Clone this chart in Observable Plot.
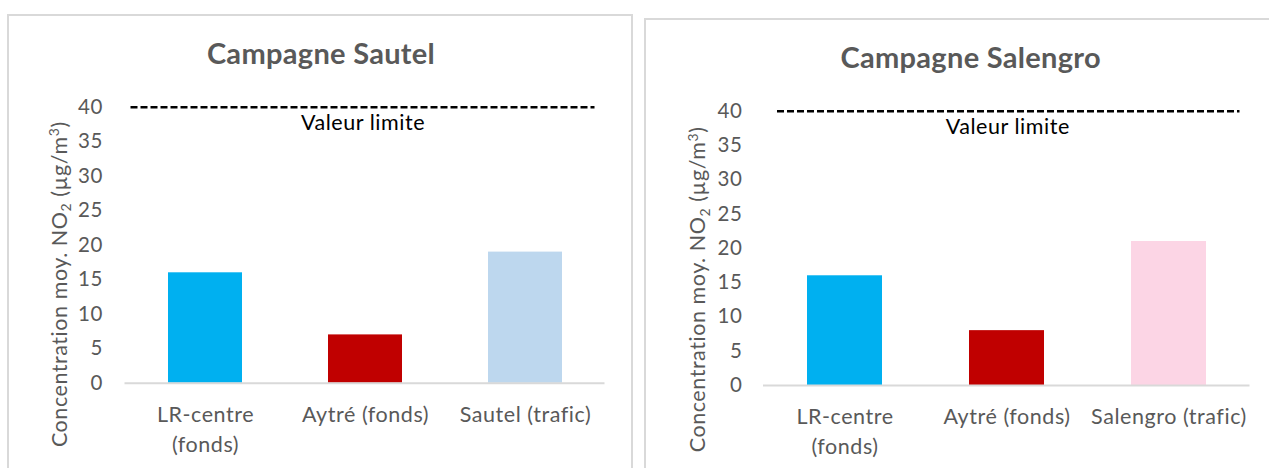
<!DOCTYPE html>
<html>
<head>
<meta charset="utf-8">
<script src="https://cdn.jsdelivr.net/npm/d3@7"></script>
<script src="https://cdn.jsdelivr.net/npm/@observablehq/plot@0.6"></script>
<style>
  html, body { margin: 0; padding: 0; background: #fff; }
  body { width: 1269px; height: 468px; overflow: hidden; position: relative; font-family: Lato, "Open Sans", sans-serif; }
  .panel { position: absolute; border: 2px solid #d9d9d9; box-sizing: border-box; }
  .chart { position: absolute; top: 0; }
  .chart svg { overflow: visible; background: transparent; }
</style>
</head>
<body>
<div class="panel" style="left:7px;top:14px;width:626px;height:470px"></div>
<div class="panel" style="left:644px;top:18px;width:660px;height:470px"></div>
<div id="c1" class="chart" style="left:0px;width:640px;height:468px"></div>
<div id="c2" class="chart" style="left:640px;width:629px;height:468px"></div>
<script>
// ---- Data ----
const categoriesSautel = ["LR-centre\n(fonds)", "Aytré (fonds)", "Sautel (trafic)"];
const valuesSautel = [16, 7, 19];
const colorsSautel = ["#00B0F0", "#C00000", "#BDD7EE"];

const categoriesSalengro = ["LR-centre\n(fonds)", "Aytré (fonds)", "Salengro (trafic)"];
const valuesSalengro = [16, 8, 21];
const colorsSalengro = ["#00B0F0", "#C00000", "#FCD5E5"];

const titles = ["Campagne Sautel", "Campagne Salengro"];
const limitValue = 40;
const limitLabel = "Valeur limite";
const yTicks = [0, 5, 10, 15, 20, 25, 30, 35, 40];
const yLabelParts = ["Concentration moy. NO", "2", " (µg/m", "3", ")"];

function drawPanel(el, cats, vals, cols, title, m) {
  const data = cats.map((c, i) => ({cat: c, value: vals[i], color: cols[i]}));
  const grey = "#595959";
  const fs = 21.5;
  const fullLabel = yLabelParts.join("");
  const plot = Plot.plot({
    width: m.width,
    height: 468,
    marginLeft: m.left,
    marginRight: m.right,
    marginTop: m.top,
    marginBottom: m.bottom,
    style: {fontFamily: "Lato, 'Open Sans', sans-serif", background: "transparent", overflow: "visible"},
    x: {domain: cats, paddingInner: 0.54, paddingOuter: 0.27, axis: null},
    y: {domain: [0, 40], ticks: yTicks, axis: null},
    marks: [
      Plot.axisY(yTicks, {tickSize: 0, tickPadding: m.tickPad, fontSize: 20.5, color: grey, label: null}),
      Plot.barY(data, {x: "cat", y: "value", fill: "color"}),
      Plot.ruleY([0], {stroke: "#d9d9d9", strokeWidth: 2}),
      Plot.ruleY([limitValue], {stroke: "#000", strokeWidth: 2.6, strokeDasharray: "7,3", insetLeft: m.dashInL, insetRight: m.dashInR}),
      Plot.text([limitValue], {y: d => d, text: () => limitLabel, frameAnchor: "middle", textAnchor: "middle", lineAnchor: "top", dy: 8, dx: m.limitDx, fontSize: fs, fill: "#000"}),
      Plot.text(data, {x: "cat", y: () => 0, text: "cat", lineAnchor: "top", dy: 17, lineHeight: 1.4, fontSize: fs, fill: grey}),
      Plot.text([title], {frameAnchor: "top", textAnchor: "middle", text: d => d, dy: m.titleDy, dx: m.titleDx, lineAnchor: "middle", fontSize: 29, fontWeight: "bold", fill: grey}),
      Plot.text([fullLabel], {frameAnchor: "left", textAnchor: "middle", lineAnchor: "middle", text: d => d, rotate: -90, dx: m.ylabDx, dy: m.ylabDy, fontSize: fs, fill: grey})
    ]
  });
  const svg = d3.select(plot);
  // letter spacing to approximate the wider original face
  svg.selectAll("text").attr("letter-spacing", "0.55px");
  svg.selectAll("text").filter(function() { return this.textContent === title; }).attr("letter-spacing", "0.3px");
  // subscript / superscript for NO2 and m3
  svg.selectAll("text").filter(function() { return this.textContent === fullLabel; }).each(function() {
    const t = d3.select(this);
    t.text(null);
    yLabelParts.forEach((p, i) => {
      const ts = t.append("tspan").text(p);
      if (i === 1) ts.attr("font-size", fs * 0.65).attr("dy", "0.3em");
      if (i === 2) ts.attr("dy", "-0.2em");
      if (i === 3) ts.attr("font-size", fs * 0.65).attr("dy", "-0.55em");
      if (i === 4) ts.attr("dy", "0.36em");
    });
  });
  el.appendChild(plot);
}

drawPanel(document.getElementById("c1"), categoriesSautel, valuesSautel, colorsSautel, titles[0],
  {width: 640, left: 124.5, right: 35.5, top: 106.7, bottom: 85.3, tickPad: 22,
   dashInL: 6, dashInR: 10, limitDx: -2, titleDy: -52, titleDx: -44, ylabDx: -65, ylabDy: 39});
drawPanel(document.getElementById("c2"), categoriesSalengro, valuesSalengro, colorsSalengro, titles[1],
  {width: 629, left: 123, right: 19.5, top: 110.7, bottom: 83, tickPad: 21,
   dashInL: 14, dashInR: 10, limitDx: 1, titleDy: -52, titleDx: -36, ylabDx: -65, ylabDy: 41});
</script>
</body>
</html>
